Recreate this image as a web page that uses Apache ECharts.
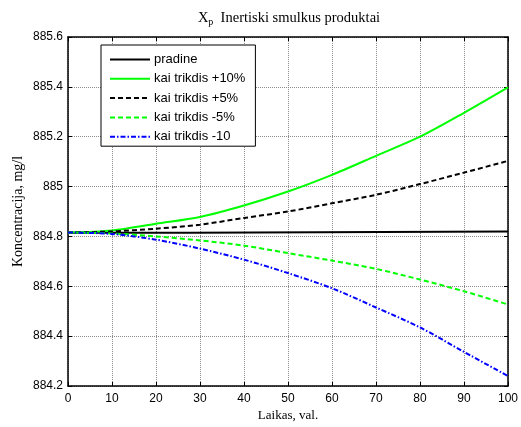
<!DOCTYPE html>
<html>
<head>
<meta charset="utf-8">
<script src="https://cdn.jsdelivr.net/npm/echarts@6/dist/echarts.min.js"></script>
<style>html,body{margin:0;padding:0;background:#fff}#c{width:521px;height:427px}</style>
</head>
<body>
<div id="c"></div>
<script>
var timeX = [0, 10, 20, 30, 40, 50, 60, 70, 80, 90, 100];
var pradineX = [0, 28, 28, 100];
var pradine = [884.815, 884.815, 884.82, 884.82];
var plus10 = [884.816, 884.824, 884.851, 884.878, 884.924, 884.98, 885.047, 885.123, 885.2, 885.296, 885.398];
var plus5 = [884.816, 884.82, 884.831, 884.847, 884.874, 884.9, 884.933, 884.967, 885.01, 885.056, 885.103];
var minus5 = [884.816, 884.812, 884.8, 884.784, 884.763, 884.733, 884.703, 884.67, 884.627, 884.58, 884.527];
var minus10 = [884.816, 884.81, 884.787, 884.751, 884.707, 884.653, 884.592, 884.515, 884.435, 884.337, 884.24];
var seriesNames = ['pradine', 'kai trikdis +10%', 'kai trikdis +5%', 'kai trikdis -5%', 'kai trikdis -10'];

function pairs(xs, ys) { return xs.map(function (x, i) { return [x, ys[i]]; }); }

var chart = echarts.init(document.getElementById('c'));
var serif = 'Liberation Serif, Times New Roman, serif';
var sans = 'Liberation Sans, Arial, sans-serif';
var gridLine = { show: true, lineStyle: { color: '#8c8c8c', type: [1, 1], width: 1 } };
function mkSeries(name, data, color, type) {
  return {
    name: name, type: 'line', data: data, symbol: 'none', smooth: 0.3,
    lineStyle: { color: color, width: 2, type: type }, itemStyle: { color: color },
    animation: false, z: 3
  };
}
chart.setOption({
  animation: false,
  backgroundColor: '#fff',
  title: {
    text: '{x|X}{s|p}{t|  Inertiski smulkus produktai}',
    left: 284, top: 4, textAlign: 'center',
    textStyle: {
      rich: {
        x: { fontFamily: serif, fontSize: 14.5, fontWeight: 'normal', color: '#000' },
        s: { fontFamily: serif, fontSize: 10, fontWeight: 'normal', color: '#000', padding: [8, 0, 0, 0] },
        t: { fontFamily: serif, fontSize: 14.5, fontWeight: 'normal', color: '#000' }
      }
    }
  },
  grid: { left: 68, right: 11, top: 37, bottom: 41, show: false },
  legend: {
    orient: 'vertical', left: 101, top: 45,
    data: seriesNames,
    itemWidth: 40, itemHeight: 12, itemGap: 6.3,
    padding: [8, 10, 3, 8],
    backgroundColor: '#fff', borderColor: '#000', borderWidth: 1,
    itemStyle: { opacity: 0 },
    textStyle: { fontFamily: sans, fontSize: 13, color: '#000', padding: [0, 0, 0, -1] },
    z: 10
  },
  xAxis: [{
    type: 'value', min: 0, max: 100, interval: 10,
    name: 'Laikas, val.', nameLocation: 'middle', nameGap: 23, nameMoveOverlap: false,
    nameTextStyle: { fontFamily: serif, fontSize: 13, color: '#000' },
    axisLine: { show: true, onZero: false, lineStyle: { color: '#000', width: 1.5 } },
    axisTick: { show: true, inside: true, length: 4, lineStyle: { color: '#000' } },
    axisLabel: { fontFamily: sans, fontSize: 12, color: '#000', margin: 7 },
    splitLine: gridLine
  }, {
    type: 'value', min: 0, max: 100, interval: 10, position: 'top',
    axisLine: { show: true, onZero: false, lineStyle: { color: '#000', width: 1.5 } },
    axisTick: { show: true, inside: true, length: 4, lineStyle: { color: '#000' } },
    axisLabel: { show: false }, splitLine: { show: false }
  }],
  yAxis: [{
    type: 'value', min: 884.2, max: 885.6, interval: 0.2,
    name: 'Koncentracija, mg/l', nameLocation: 'middle', nameGap: 43, nameMoveOverlap: false,
    nameTextStyle: { fontFamily: serif, fontSize: 14, color: '#000' },
    axisLine: { show: true, onZero: false, lineStyle: { color: '#000', width: 1.5 } },
    axisTick: { show: true, inside: true, length: 4, lineStyle: { color: '#000' } },
    axisLabel: { fontFamily: sans, fontSize: 12, color: '#000', margin: 5,
      formatter: function (v) { return String(+v.toFixed(1)); } },
    splitLine: gridLine
  }, {
    type: 'value', min: 884.2, max: 885.6, interval: 0.2, position: 'right',
    axisLine: { show: true, onZero: false, lineStyle: { color: '#000', width: 1.5 } },
    axisTick: { show: true, inside: true, length: 4, lineStyle: { color: '#000' } },
    axisLabel: { show: false }, splitLine: { show: false }
  }],
  series: [
    Object.assign(mkSeries(seriesNames[0], pairs(pradineX, pradine), '#000000', 'solid'), { smooth: false }),
    mkSeries(seriesNames[1], pairs(timeX, plus10), '#00ff00', 'solid'),
    mkSeries(seriesNames[2], pairs(timeX, plus5), '#000000', [5, 3]),
    mkSeries(seriesNames[3], pairs(timeX, minus5), '#00ff00', [5, 3]),
    mkSeries(seriesNames[4], pairs(timeX, minus10), '#0000ff', [5, 2, 1.5, 2])
  ]
});
</script>
</body>
</html>
